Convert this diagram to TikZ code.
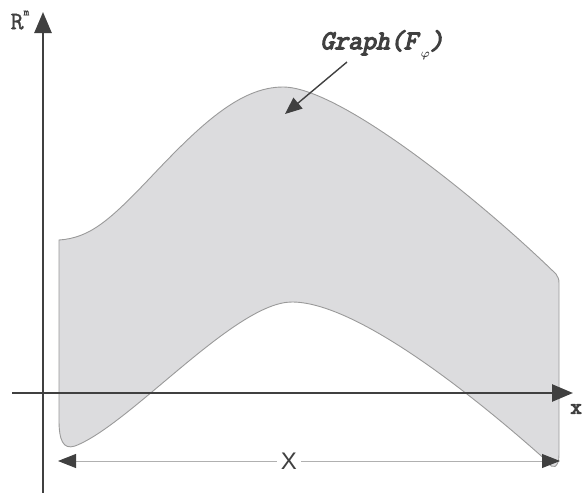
\documentclass[tikz,border=0pt]{standalone}
\usepackage{amsmath}
\usepackage{fontspec}
\setmainfont{Liberation Sans}
\newfontface\courbi{Latin Modern Mono}[FakeBold=4.5,FakeSlant=0.22]
\newfontface\courb{Latin Modern Mono}[FakeBold=4.5]
\newfontface\courr{Latin Modern Mono}[FakeBold=1.5]
\usetikzlibrary{arrows.meta}
\definecolor{axisgray}{HTML}{404040}
\definecolor{fillgray}{HTML}{DCDCDE}
\definecolor{edgegray}{HTML}{9A9A9A}
\definecolor{dimgray}{HTML}{B0B0B0}
\tikzset{
  axisline/.style={draw=axisgray, line width=2.6pt, -{Triangle[length=21pt,width=17pt,fill=axisgray]}},
  dimline/.style={draw=dimgray, line width=0.9pt, {Triangle[length=18pt,width=14pt,color=axisgray,fill=axisgray]}-{Triangle[length=18pt,width=14pt,color=axisgray,fill=axisgray]}},
  pointer/.style={draw=axisgray, line width=1.4pt, -{Triangle[length=17pt,width=14pt,fill=axisgray]}},
  region/.style={fill=fillgray, draw=edgegray, line width=0.9pt},
  labeltxt/.style={inner sep=1pt, text=axisgray}
}
\begin{document}
\begin{tikzpicture}[x=1pt,y=-1pt]
\useasboundingbox (0,0) rectangle (582,493);
% region
\path[region] (59,240) .. controls (90,238) and (110,220) .. (150,178)
  .. controls (200,125) and (240,87) .. (283,87)
  .. controls (340,87) and (480,200) .. (556,274)
  .. controls (558,277) and (559,279) .. (559,283)
  -- (559,455)
  .. controls (559,468) and (552,470) .. (548,462)
  .. controls (470,392) and (355,302) .. (292,302)
  .. controls (235,302) and (130,425) .. (75,446)
  .. controls (63,450) and (59,440) .. (59,420)
  -- cycle;
% axes
\coordinate (ybot) at (43,493);
\coordinate (ytop) at (43,12);
\coordinate (xleft) at (12,393);
\coordinate (xright) at (573,393);
\draw[axisline] (ybot) -- (ytop);
\draw[axisline] (xleft) -- (xright);
% labels
\node[labeltxt, font=\courr\fontsize{25}{25}\selectfont] (rm) at (20,20) {R\raisebox{0.55em}{\fontsize{11}{11}\selectfont m}};
\node[labeltxt, font=\courb\fontsize{22}{22}\selectfont, anchor=east, inner sep=0pt] (xl) at (582,409) {x};
\node[labeltxt, font=\courbi\fontsize{27}{27}\selectfont] (graph) at (382,45) {Graph(F\kern0.12em\raisebox{-0.3em}{\fontsize{12}{12}\selectfont$\boldsymbol{\varphi}$})};
% pointer
\coordinate (ps) at (347,62);
\coordinate (pe) at (285,114);
\draw[pointer] (ps) -- (pe);
% dimension
\coordinate (dl) at (58,461);
\coordinate (dr) at (560,461);
\draw[dimline] (dl) -- (dr);
\node[labeltxt, font=\fontsize{24}{24}\selectfont, fill=white, inner sep=4pt] (X) at (289,461) {X};
\end{tikzpicture}
\end{document}
